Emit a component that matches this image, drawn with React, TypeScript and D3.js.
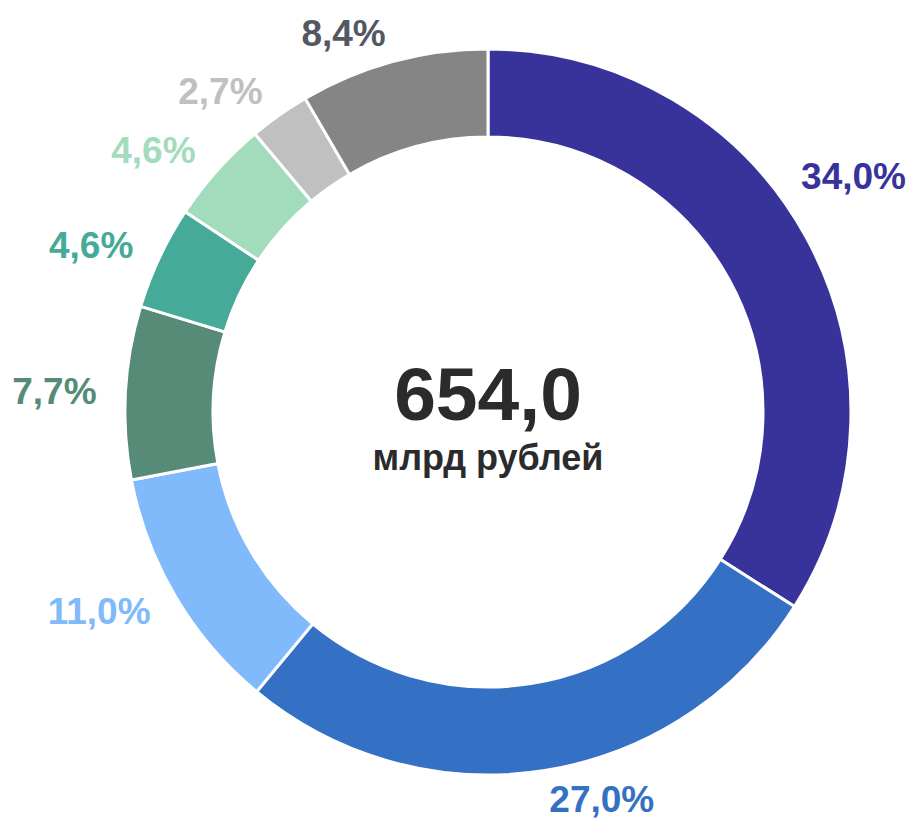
import React from "react";
import * as d3 from "d3";

const categories = ["A", "B", "C", "D", "E", "F", "G", "H"];
const values = [34.0, 27.0, 11.0, 7.7, 4.6, 4.6, 2.7, 8.4];
const labels = ["34,0%", "27,0%", "11,0%", "7,7%", "4,6%", "4,6%", "2,7%", "8,4%"];
const sliceColors = ["#37339A", "#3470C3", "#80BAFB", "#568B78", "#45AA98", "#A3DCBC", "#C0C0C0", "#858585"];
const labelColors = ["#37339A", "#3470C3", "#80BAFB", "#568B78", "#45AA98", "#A3DCBC", "#C0C0C0", "#535862"];
const totalText = "654,0";
const unitText = "млрд рублей";

const W = 911;
const H = 828;
const cx = 488;
const cy = 412;
const outerR = 363;
const innerR = 275;
const labelR = 392;
const labelSize = 37;
const font = "'Liberation Sans', Arial, Helvetica, sans-serif";

function measure(text: string, size: number): number {
  if (typeof document === "undefined") return text.length * size * 0.56;
  const c = document.createElement("canvas").getContext("2d");
  if (!c) return text.length * size * 0.56;
  c.font = `bold ${size}px ${font}`;
  return c.measureText(text).width;
}

export default function App() {
  const pie = d3.pie<number>().sort(null).value((d) => d)(values);
  const arc = d3.arc<d3.PieArcDatum<number>>().innerRadius(innerR).outerRadius(outerR);
  return (
    <svg width={W} height={H} style={{ position: "absolute", left: 0, top: 0 }} fontFamily={font}>
      <g transform={`translate(${cx},${cy})`}>
        {pie.map((p, i) => (
          <path key={categories[i]} d={arc(p) || ""} fill={sliceColors[i]} stroke="#fff" strokeWidth={3} />
        ))}
        {pie.map((p, i) => {
          const a = (p.startAngle + p.endAngle) / 2;
          const right = a < Math.PI;
          let x = Math.sin(a) * labelR;
          let y = -Math.cos(a) * labelR;
          const w = measure(labels[i], labelSize);
          const margin = 5;
          const maxX = W - cx - margin - w;
          const minX = -cx + margin + w;
          if (right && x > maxX) {
            x = maxX;
            const s = y < 0 ? -1 : 1;
            y = s * Math.sqrt(Math.max(0, labelR * labelR - x * x));
          } else if (!right && x < minX) {
            x = minX;
            const s = y < 0 ? -1 : 1;
            y = s * Math.sqrt(Math.max(0, labelR * labelR - x * x));
          }
          return (
            <text key={"l" + i} x={x} y={y} textAnchor={right ? "start" : "end"} dominantBaseline="central" fontSize={labelSize} fontWeight="bold" fill={labelColors[i]}>
              {labels[i]}
            </text>
          );
        })}
        <text x={0} y={8} textAnchor="middle" fontSize={75} fontWeight="bold" fill="#2B2B2D">{totalText}</text>
        <text x={0} y={58} textAnchor="middle" fontSize={36} fontWeight="bold" fill="#2B2B2D">{unitText}</text>
      </g>
    </svg>
  );
}
